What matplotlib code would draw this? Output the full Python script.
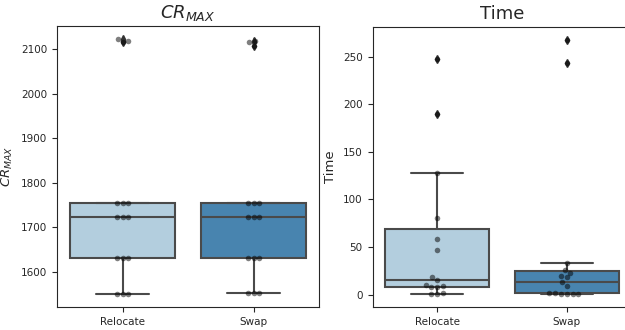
import matplotlib
matplotlib.use("Agg")
import matplotlib.pyplot as plt
import pandas as pd
import seaborn as sns

# %%
methods = ["Relocate", "Swap"]

cr_relocate = [1549, 1549, 1549, 1630, 1630, 1631, 1723, 1723, 1723,
               1755, 1755, 1755, 2117, 2120, 2124]
cr_swap = [1552, 1552, 1552, 1630, 1630, 1630, 1723, 1723, 1723,
           1755, 1755, 1755, 2108, 2116, 2120]

time_relocate = [0.3, 0.8, 1.2, 7.5, 8, 8.5, 10, 15, 18, 47, 58, 80, 128, 190, 248]
time_swap = [0.3, 0.6, 0.9, 1.1, 1.4, 1.7, 9, 13, 18, 20, 23, 26, 33, 244, 268]

df = pd.DataFrame({
    "method": [methods[0]] * len(cr_relocate) + [methods[1]] * len(cr_swap),
    "cr": cr_relocate + cr_swap,
    "time": time_relocate + time_swap,
})

# %%
sns.set_style("ticks")
plt.rcParams["font.family"] = ["DejaVu Sans"]
plt.rcParams["xtick.labelsize"] = 7.5
plt.rcParams["ytick.labelsize"] = 7.5

fig = plt.figure(figsize=(6.25, 3.3), dpi=100)
ax1 = fig.add_axes([0.0912, 0.0697, 0.4192, 0.8515])
ax2 = fig.add_axes([0.596, 0.0697, 0.4144, 0.8485])

palette = sns.color_palette("Blues", 2)

for ax, col, title in [(ax1, "cr", "$CR_{MAX}$"), (ax2, "time", "Time")]:
    sns.boxplot(
        data=df, x="method", y=col, hue="method", palette=palette,
        legend=False, ax=ax, saturation=0.75, linewidth=1.5,
        flierprops=dict(marker="d", markerfacecolor="0.2",
                        markeredgecolor="0.2", markersize=4),
    )
    sns.swarmplot(data=df, x="method", y=col, color="black", alpha=0.5,
                  size=4, ax=ax)
    ax.set_title(title, fontsize=13)
    ax.set_ylabel(title, fontsize=9.5)
    ax.set_xlabel("")

ax1.set_yticks([1600, 1700, 1800, 1900, 2000, 2100])
ax2.set_yticks([0, 50, 100, 150, 200, 250])

fig.savefig("out.png", dpi=100)
